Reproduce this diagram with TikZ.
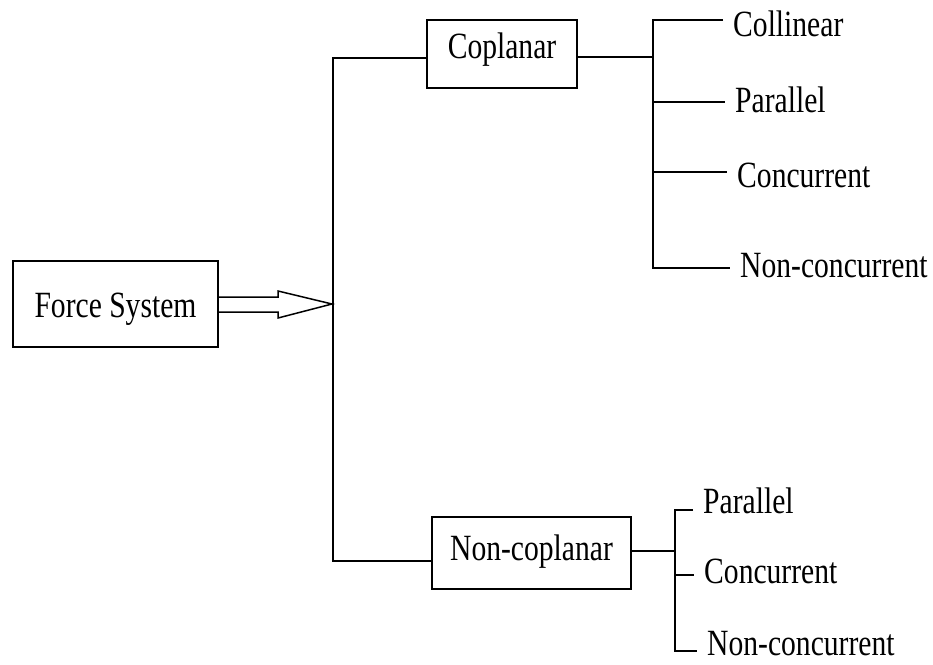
\documentclass[tikz,border=0pt]{standalone}
\usepackage{fontspec}
\setmainfont{Liberation Serif}[FakeStretch=0.8]
\begin{document}
\begin{tikzpicture}[x=1pt,y=-1pt,
  every node/.style={font=\fontsize{37}{44}\selectfont},
  catbox/.style={draw, line width=1.5pt, inner sep=0pt, text depth=0pt},
  leaf/.style={anchor=base west, inner xsep=10pt, inner ysep=0pt, text depth=0pt},
  wire/.style={line width=1.5pt}]
\useasboundingbox (0,0) rectangle (933,664);
% boxes
\node[catbox, minimum width=205pt, minimum height=86pt, text height=26.4pt] (fs) at (115.5,304) {Force System};
\node[catbox, minimum width=150pt, minimum height=68pt, text height=9.4pt] (cop) at (502,54) {Coplanar};
\node[catbox, minimum width=199pt, minimum height=72pt, text height=14.4pt] (ncop) at (531.5,553) {Non-coplanar};
% leaves upper
\node[leaf] (l1) at (723,36) {Collinear};
\node[leaf] (l2) at (725,112) {Parallel};
\node[leaf] (l3) at (727,187) {Concurrent};
\node[leaf] (l4) at (730,277) {Non-concurrent};
% leaves lower
\node[leaf] (m1) at (693,513) {Parallel};
\node[leaf] (m2) at (694,583) {Concurrent};
\node[leaf] (m3) at (697,655) {Non-concurrent};
% junction coordinates
\coordinate (mt) at (333,58);
\coordinate (mb) at (333,561);
\coordinate (tip) at (332,304);
\coordinate (ut) at (653,20);
\coordinate (uc) at (653,57);
\coordinate (u2) at (653,102);
\coordinate (u3) at (653,172);
\coordinate (ub) at (653,268);
\coordinate (lt) at (675,510);
\coordinate (lc) at (675,551);
\coordinate (l2c) at (675,575);
\coordinate (lb) at (675,651);
% double arrow
\draw[wire, line join=miter] (fs.east |- 0,297) -- (278,297) -- (278,291) -- (tip)
  -- (278,318) -- (278,312) -- (fs.east |- 0,312);
% main trunk
\draw[wire] (mt -| cop.west) -- (mt) -- (mb) -- (mb -| ncop.west);
% upper branch
\draw[wire] (cop.east |- uc) -- (uc);
\draw[wire] (ut -| l1.west) -- (ut) -- (ub) -- (ub -| l4.west);
\draw[wire] (u2) -- (u2 -| l2.west);
\draw[wire] (u3) -- (u3 -| l3.west);
% lower branch
\draw[wire] (ncop.east |- lc) -- (lc);
\draw[wire] (lt -| m1.west) -- (lt) -- (lb) -- (lb -| m3.west);
\draw[wire] (l2c) -- (l2c -| m2.west);
\end{tikzpicture}
\end{document}
